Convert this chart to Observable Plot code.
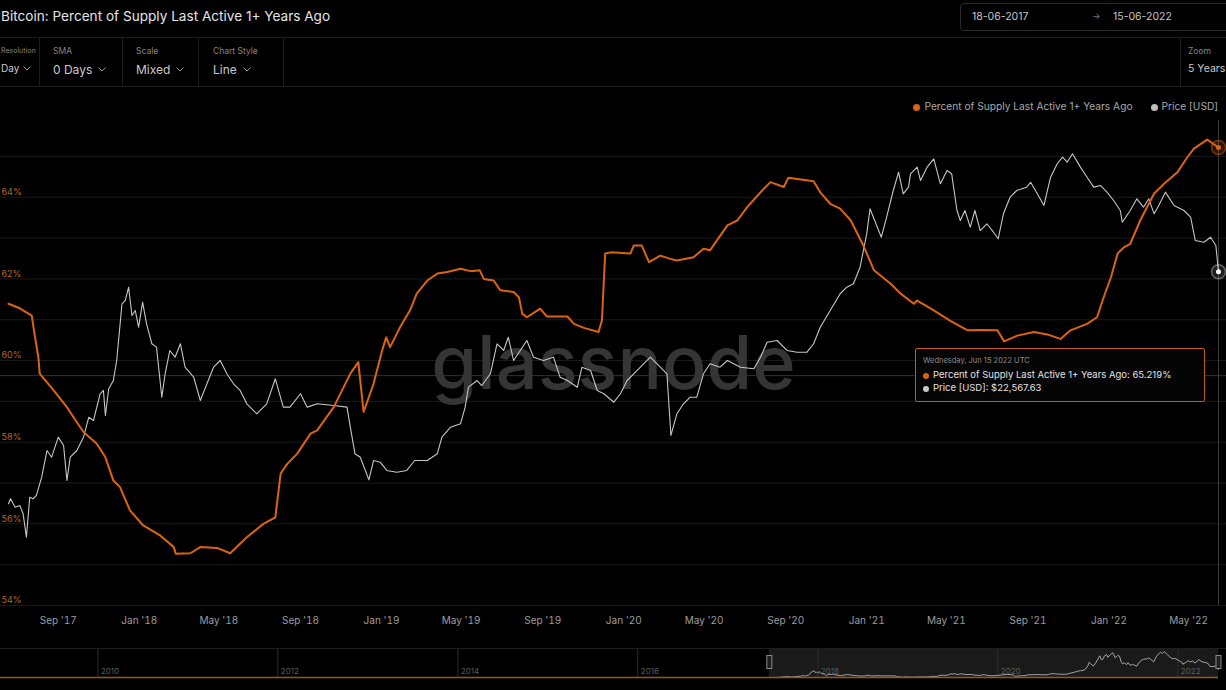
<!DOCTYPE html>
<html><head><meta charset="utf-8">
<script src="https://cdn.jsdelivr.net/npm/d3@7"></script>
<script src="https://cdn.jsdelivr.net/npm/@observablehq/plot@0.6"></script>
<style>
html,body{margin:0;padding:0;background:#000;width:1226px;height:690px;overflow:hidden;font-family:Inter,"Open Sans",sans-serif;}
#page{position:relative;width:1226px;height:690px;overflow:hidden;background:#000;}
.abs{position:absolute;white-space:nowrap;}
.hline{position:absolute;left:0;width:1226px;height:1px;background:#1d1d1d;}
.vline{position:absolute;top:38px;width:1px;height:48px;background:#1d1d1d;}
.clab{position:absolute;top:46px;font-size:8.5px;color:#858585;white-space:nowrap;}
.cval{position:absolute;top:62px;font-size:12px;color:#c9c9c9;white-space:nowrap;display:flex;align-items:center;gap:6px;}
.layer{position:absolute;left:0;top:120px;}
.dot{display:inline-block;width:7px;height:7px;border-radius:50%;margin-right:4px;vertical-align:-0.5px;}
</style>
</head><body><div id="page"></div>
<script>
// ---------- data ----------
const titleText = "Bitcoin: Percent of Supply Last Active 1+ Years Ago";
const seriesNames = ["Percent of Supply Last Active 1+ Years Ago", "Price [USD]"];
const rangeStart = "2017-06-18";
const rangeEnd = "2022-06-15";
const controlLabels = ["Resolution", "SMA", "Scale", "Chart Style"];
const controlValues = ["Day", "0 Days", "Mixed", "Line"];
const zoomLabel = "Zoom";
const zoomValue = "5 Years";

const pctDates = ["2017-06-18","2017-07-05","2017-07-23","2017-07-28","2017-08-02","2017-08-04","2017-08-25","2017-09-14","2017-09-24","2017-10-09","2017-10-29","2017-11-11","2017-11-23","2017-12-03","2017-12-18","2018-01-07","2018-02-02","2018-02-22","2018-02-25","2018-03-19","2018-04-03","2018-04-28","2018-05-18","2018-06-12","2018-07-07","2018-07-25","2018-08-02","2018-08-12","2018-08-27","2018-09-16","2018-09-26","2018-10-21","2018-11-15","2018-11-27","2018-12-05","2018-12-20","2019-01-02","2019-01-08","2019-01-14","2019-01-29","2019-02-13","2019-02-23","2019-03-11","2019-03-26","2019-04-10","2019-04-30","2019-05-15","2019-05-29","2019-06-04","2019-06-19","2019-06-29","2019-07-19","2019-07-27","2019-08-01","2019-08-08","2019-08-28","2019-09-07","2019-10-08","2019-10-18","2019-11-02","2019-11-24","2019-11-29","2019-12-04","2019-12-12","2020-01-11","2020-01-16","2020-01-28","2020-02-08","2020-02-25","2020-03-11","2020-03-21","2020-04-15","2020-04-30","2020-05-10","2020-06-05","2020-06-20","2020-07-05","2020-07-30","2020-08-09","2020-08-29","2020-09-05","2020-10-13","2020-10-23","2020-11-07","2020-11-22","2020-12-08","2020-12-28","2021-01-12","2021-02-06","2021-02-21","2021-03-13","2021-03-18","2021-04-12","2021-05-07","2021-06-02","2021-06-21","2021-07-17","2021-07-27","2021-08-16","2021-09-10","2021-09-30","2021-10-20","2021-11-04","2021-11-29","2021-12-14","2021-12-24","2022-01-04","2022-01-14","2022-01-24","2022-02-02","2022-02-17","2022-03-10","2022-03-25","2022-04-14","2022-04-29","2022-05-09","2022-05-29","2022-06-15"];
const pctValues = [61.39,61.28,61.10,60.57,60.08,59.68,59.27,58.86,58.61,58.25,57.96,57.63,57.06,56.90,56.33,55.96,55.71,55.43,55.27,55.28,55.43,55.41,55.28,55.67,56.00,56.16,57.23,57.47,57.72,58.21,58.29,58.86,59.68,59.96,58.74,59.43,60.25,60.57,60.33,60.82,61.23,61.64,61.96,62.13,62.17,62.25,62.19,62.21,62.00,61.96,61.72,61.68,61.55,61.15,61.06,61.27,61.08,61.08,60.90,60.80,60.70,60.98,62.62,62.65,62.62,62.82,62.82,62.41,62.57,62.49,62.45,62.53,62.74,62.70,63.31,63.43,63.76,64.21,64.37,64.25,64.48,64.39,64.12,63.84,63.72,63.43,62.78,62.21,61.88,61.64,61.39,61.47,61.23,60.97,60.74,60.75,60.74,60.47,60.61,60.70,60.64,60.53,60.74,60.90,61.06,61.55,62.04,62.62,62.78,62.86,63.43,64.09,64.33,64.61,64.98,65.19,65.41,65.219];

const priceDates = ["2017-06-18","2017-06-21","2017-06-28","2017-07-05","2017-07-10","2017-07-15","2017-07-20","2017-07-25","2017-07-30","2017-08-07","2017-08-15","2017-08-22","2017-09-01","2017-09-09","2017-09-14","2017-09-19","2017-09-29","2017-10-09","2017-10-17","2017-10-24","2017-11-03","2017-11-08","2017-11-11","2017-11-16","2017-11-23","2017-11-28","2017-12-06","2017-12-11","2017-12-16","2017-12-21","2017-12-26","2017-12-31","2018-01-06","2018-01-12","2018-01-20","2018-01-27","2018-02-04","2018-02-09","2018-02-16","2018-02-24","2018-03-04","2018-03-11","2018-03-24","2018-04-03","2018-04-13","2018-04-23","2018-05-03","2018-05-13","2018-05-23","2018-06-02","2018-06-12","2018-06-27","2018-07-12","2018-07-25","2018-08-06","2018-08-16","2018-09-01","2018-09-11","2018-09-26","2018-10-21","2018-11-10","2018-11-15","2018-11-22","2018-11-30","2018-12-13","2018-12-20","2018-12-30","2019-01-09","2019-01-24","2019-02-08","2019-02-20","2019-03-11","2019-03-26","2019-04-02","2019-04-15","2019-04-30","2019-05-07","2019-05-12","2019-05-25","2019-06-01","2019-06-14","2019-06-24","2019-07-04","2019-07-11","2019-07-19","2019-07-29","2019-08-08","2019-08-18","2019-09-02","2019-09-17","2019-09-27","2019-10-08","2019-10-23","2019-10-30","2019-11-12","2019-11-22","2019-12-02","2019-12-17","2019-12-27","2020-01-06","2020-01-16","2020-01-26","2020-02-10","2020-02-25","2020-03-06","2020-03-12","2020-03-21","2020-03-31","2020-04-10","2020-04-20","2020-04-30","2020-05-10","2020-05-25","2020-06-05","2020-06-25","2020-07-15","2020-07-25","2020-08-04","2020-08-19","2020-09-03","2020-09-18","2020-10-03","2020-10-13","2020-10-23","2020-11-07","2020-11-22","2020-12-02","2020-12-12","2020-12-22","2021-01-01","2021-01-06","2021-01-13","2021-01-23","2021-01-31","2021-02-10","2021-02-18","2021-02-25","2021-03-05","2021-03-08","2021-03-18","2021-03-23","2021-04-02","2021-04-12","2021-04-22","2021-05-02","2021-05-09","2021-05-17","2021-05-22","2021-05-29","2021-06-06","2021-06-13","2021-06-21","2021-07-01","2021-07-11","2021-07-18","2021-07-26","2021-08-05","2021-08-15","2021-08-30","2021-09-05","2021-09-15","2021-09-25","2021-10-05","2021-10-15","2021-10-23","2021-10-30","2021-11-07","2021-11-19","2021-11-29","2021-12-09","2021-12-19","2021-12-29","2022-01-08","2022-01-18","2022-01-21","2022-02-02","2022-02-12","2022-02-22","2022-03-02","2022-03-10","2022-03-17","2022-03-27","2022-04-09","2022-04-24","2022-05-04","2022-05-11","2022-05-24","2022-06-03","2022-06-11","2022-06-15"];
const priceValues = [2618,2743,2537,2578,2386,1920,2783,2743,2829,3352,4294,4035,4860,4497,3250,4035,4294,4860,5849,5672,7271,7497,5942,7616,8224,9903,16766,17290,19560,15043,15756,13492,17020,13923,11566,11207,7044,8754,10868,10213,11566,9305,8482,6831,7975,9305,9903,8754,7975,7497,6624,6038,6624,8356,6422,6422,7271,6422,6624,6522,6422,5332,4164,4035,3270,3913,3853,3568,3510,3568,3913,3913,4164,4860,5332,5501,6422,7730,8224,7851,8754,11566,10868,12295,9903,10868,11924,10213,9903,10213,8482,8224,7730,9305,9027,7497,7271,6723,7271,8224,8754,9305,10213,9305,8754,4938,6038,6624,7044,7044,8754,9606,9305,9903,9305,9170,10213,11735,11924,10868,10697,10697,11566,13492,15756,18403,19560,20185,23552,32112,40516,36330,31120,37480,48010,56915,46552,49523,56063,59630,52693,59630,64433,51098,57791,56063,39870,36330,39870,34143,39870,33105,35248,32593,30668,38660,45120,48010,49523,51843,46552,41770,54303,61532,65407,62442,67500,59630,54303,49523,50298,47269,43746,39870,35771,39870,44437,41108,44437,38660,41770,47269,41770,39870,37480,30174,29709,31120,28809,22567.63];

const xTickDates = ["2017-09-01","2018-01-01","2018-05-01","2018-09-01","2019-01-01","2019-05-01","2019-09-01","2020-01-01","2020-05-01","2020-09-01","2021-01-01","2021-05-01","2021-09-01","2022-01-01","2022-05-01"];
const pctGridValues = [54,55,56,57,58,59,60,61,62,63,64,65];
const pctLabelValues = [54,56,58,60,62,64];
const pctDomain = [54, 65.39];
const priceDomain = [1018, 76376];
const crosshairPct = 59.63;
const navStart = "2009-01-03";
const navYears = ["2010","2012","2014","2016","2018","2020","2022"];
const navPriceMax = 75000;

// ---------- colours ----------
const ORANGE = "#dc6410";
const GREY = "#c6c6c6";

// ---------- build ----------
const parse = d3.utcParse("%Y-%m-%d");
const pct = pctDates.map((d, i) => ({date: parse(d), value: pctValues[i]}));
const price = priceDates.map((d, i) => ({date: parse(d), value: priceValues[i]}));
const xDomain = [parse(rangeStart), parse(rangeEnd)];
const lastPct = pct[pct.length - 1];
const lastPrice = price[price.length - 1];
const page = document.getElementById("page");

function el(tag, cls, style, html) {
  const e = document.createElement(tag);
  if (cls) e.className = cls;
  if (style) e.setAttribute("style", style);
  if (html != null) e.innerHTML = html;
  page.appendChild(e);
  return e;
}
const chev = '<svg width="8" height="5" style="display:block"><polyline points="0.5,0.5 4,4 7.5,0.5" fill="none" stroke="#9a9a9a" stroke-width="1"/></svg>';

// header
el("div", "abs", "left:1px;top:7px;font-size:13.6px;color:#e4e4e4;line-height:18px;", titleText);
el("div", "abs", "left:960px;top:3px;width:290px;height:26px;border:1px solid #2a2a2a;border-radius:4px;");
el("div", "abs", "left:972px;top:10px;font-size:10.5px;color:#c4c4c4;", rangeStart.split("-").reverse().join("-"));
el("div", "abs", "left:1092px;top:10px;font-size:9px;color:#777;", "→");
el("div", "abs", "left:1113px;top:10px;font-size:10.5px;color:#c4c4c4;", rangeEnd.split("-").reverse().join("-"));
el("div", "hline", "top:37px;");
el("div", "hline", "top:86px;");
[39, 122, 198, 283, 1180].forEach(x => el("div", "vline", `left:${x}px;`));
// controls
el("div", "clab", "left:1px;font-size:7px;", controlLabels[0]);
el("div", "cval", "left:1px;font-size:10px;gap:4px;", controlValues[0] + chev);
[53, 136, 213].forEach((x, i) => {
  el("div", "clab", `left:${x}px;`, controlLabels[i + 1]);
  el("div", "cval", `left:${x}px;`, controlValues[i + 1] + chev);
});
el("div", "clab", "left:1188px;", zoomLabel);
el("div", "cval", "left:1188px;font-size:10.5px;", zoomValue);
// legend
el("div", "abs", "right:8px;top:100px;font-size:10.2px;color:#a8a8a8;",
  `<span class="dot" style="background:${ORANGE}"></span>${seriesNames[0]}<span style="display:inline-block;width:18px"></span><span class="dot" style="background:#bdbdbd"></span>${seriesNames[1]}`);

// charts
const W = 1226, H = 520;
const common = {width: W, height: H, marginLeft: 8, marginRight: 8, marginTop: 20, marginBottom: 35};

const base = Plot.plot({
  ...common,
  style: {background: "#000", color: "#9d9d9d", fontFamily: "Inter, sans-serif", fontSize: "10px", overflow: "hidden"},
  x: {type: "utc", domain: xDomain, ticks: xTickDates.map(parse), tickFormat: d3.utcFormat("%b '%y"), tickSize: 0, tickPadding: 11, label: null},
  y: {domain: pctDomain, axis: null},
  marks: [
    Plot.ruleY(pctGridValues, {stroke: "#1b1b1b", insetLeft: -8, insetRight: -8}),
    Plot.text(["glassnode"], {frameAnchor: "middle", text: d => d, fontSize: 74, fontWeight: 500, fill: "#353535", dy: -8, fontFamily: "Inter, sans-serif", letterSpacing: 6}),
    Plot.text(pctLabelValues, {y: d => d, text: d => d + "%", frameAnchor: "left", textAnchor: "start", dx: -7, dy: -5, fill: "#b5661e", fontSize: 9}),
    Plot.ruleY([crosshairPct], {stroke: "#333", insetLeft: -8, insetRight: -8}),
    Plot.ruleX([xDomain[1]], {stroke: "#3a3a3a", insetTop: -25})
  ]
});
base.classList.add("layer");
page.appendChild(base);

const priceChart = Plot.plot({
  ...common,
  style: {background: "transparent", overflow: "hidden"},
  x: {type: "utc", domain: xDomain, axis: null},
  y: {type: "log", domain: priceDomain, axis: null},
  marks: [
    Plot.line(price, {x: "date", y: "value", stroke: GREY, strokeWidth: 1.1}),
    Plot.dot([lastPrice], {x: "date", y: "value", r: 7, fill: "#fff", fillOpacity: 0.12, stroke: "#fff", strokeOpacity: 0.35}),
    Plot.dot([lastPrice], {x: "date", y: "value", r: 2.5, fill: "#fff"})
  ]
});
priceChart.classList.add("layer");
page.appendChild(priceChart);

const pctChart = Plot.plot({
  ...common,
  style: {background: "transparent", overflow: "hidden"},
  x: {type: "utc", domain: xDomain, axis: null},
  y: {domain: pctDomain, axis: null},
  marks: [
    Plot.line(pct, {x: "date", y: "value", stroke: ORANGE, strokeWidth: 2}),
    Plot.dot([lastPct], {x: "date", y: "value", r: 7, fill: ORANGE, fillOpacity: 0.2, stroke: ORANGE, strokeOpacity: 0.5}),
    Plot.dot([lastPct], {x: "date", y: "value", r: 2.5, fill: ORANGE})
  ]
});
pctChart.classList.add("layer");
page.appendChild(pctChart);

// tooltip
const fmtDay = d3.utcFormat("%A, %b %d %Y UTC");
el("div", "abs", `left:915px;top:348px;width:288px;height:52px;border:1px solid #c45a0c;border-radius:2px;background:#050505;`,
  `<div style="position:absolute;left:7px;top:7px;font-size:7.5px;color:#8a8a8a">${fmtDay(lastPct.date)}</div>` +
  `<div style="position:absolute;left:7px;top:20px;font-size:9.5px;color:#e2e2e2"><span class="dot" style="background:${ORANGE};width:6px;height:6px"></span>${seriesNames[0]}: ${d3.format(".3f")(lastPct.value)}%</div>` +
  `<div style="position:absolute;left:7px;top:33px;font-size:9.5px;color:#e2e2e2"><span class="dot" style="background:#c8c8c8;width:6px;height:6px"></span>${seriesNames[1]}: ${d3.format("$,.2f")(lastPrice.value)}</div>`);

// navigator
const navDomain = [parse(navStart), xDomain[1]];
const nav = Plot.plot({
  width: W, height: 50, marginLeft: 8, marginRight: 8, marginTop: 8, marginBottom: 12,
  style: {background: "transparent", overflow: "hidden", fontFamily: "Inter, sans-serif"},
  x: {type: "utc", domain: navDomain, axis: null},
  y: {domain: [0, navPriceMax], axis: null},
  marks: [
    Plot.rect([xDomain], {x1: d => d[0], x2: d => d[1], fill: "#1a1a1a"}),
    Plot.ruleX(navYears, {x: d => parse(d + "-01-01"), stroke: "#2c2c2c"}),
    Plot.text(navYears, {x: d => parse(d + "-01-01"), text: d => d, frameAnchor: "bottom", textAnchor: "start", lineAnchor: "bottom", dx: 3, dy: -5, fill: "#5c5c5c", fontSize: 8}),
    Plot.line(price, {x: "date", y: "value", stroke: "#a5a5a5", strokeWidth: 1}),
    Plot.ruleY([0], {stroke: "#9c5718", strokeWidth: 1.5, insetLeft: -8, dy: -1}),
    Plot.tickX(xDomain, {x: d => d, stroke: "#8a8a8a", strokeWidth: 6, insetTop: 7, insetBottom: 9}),
    Plot.tickX(xDomain, {x: d => d, stroke: "#1e1e1e", strokeWidth: 4, insetTop: 8, insetBottom: 10})
  ]
});
nav.style.position = "absolute";
nav.style.left = "0px";
nav.style.top = "640px";
page.appendChild(nav);
el("div", "hline", "top:648px;background:#1f1f1f;");
</script>
</body></html>
